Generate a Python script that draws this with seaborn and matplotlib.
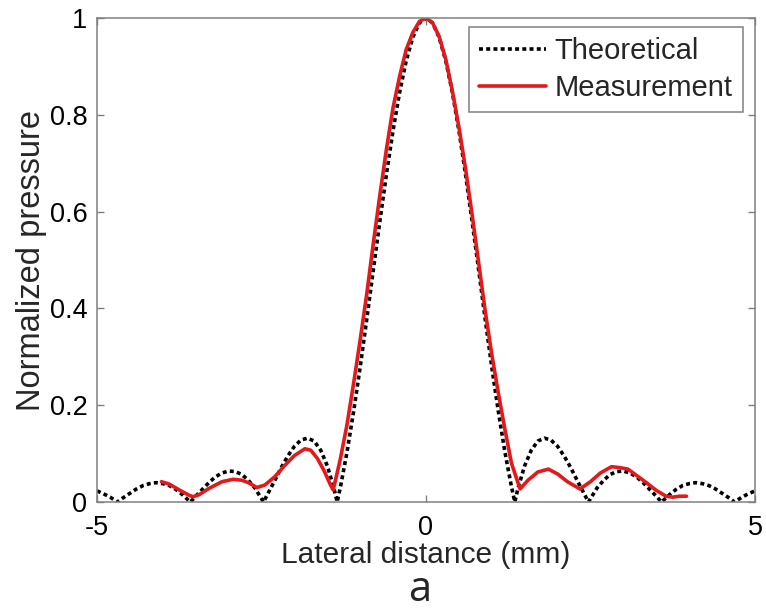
import numpy as np
import pandas as pd
import matplotlib
matplotlib.use('Agg')
import matplotlib.pyplot as plt
import seaborn as sns

# ---------------- DATA ----------------

theo_x = [-5.0, -4.9, -4.8, -4.69, -4.6, -4.5, -4.4, -4.3, -4.2, -4.1, -4.0,
          -3.9, -3.8, -3.7, -3.58, -3.5, -3.4, -3.3, -3.2, -3.1, -3.0,
          -2.9, -2.8, -2.7, -2.6, -2.5, -2.47, -2.4, -2.3, -2.2, -2.1, -2.0,
          -1.9, -1.8, -1.7, -1.6, -1.5, -1.4, -1.35, -1.3, -1.2, -1.1, -1.0,
          -0.9, -0.8, -0.7, -0.6, -0.5, -0.4, -0.3, -0.2, -0.1,
          0.0,
          0.1, 0.2, 0.3, 0.4, 0.5, 0.6, 0.7, 0.8, 0.9,
          1.0, 1.1, 1.2, 1.3, 1.35, 1.4, 1.5, 1.6, 1.7, 1.8, 1.9,
          2.0, 2.1, 2.2, 2.3, 2.4, 2.47, 2.5, 2.6, 2.7, 2.8, 2.9,
          3.0, 3.1, 3.2, 3.3, 3.4, 3.5, 3.58, 3.7, 3.8, 3.9,
          4.0, 4.1, 4.2, 4.3, 4.4, 4.5, 4.6, 4.69, 4.8, 4.9, 5.0]
theo_y = [0.023, 0.017, 0.010, 0.000, 0.009, 0.018, 0.027, 0.034, 0.038, 0.040, 0.038,
          0.034, 0.026, 0.015, 0.000, 0.012, 0.026, 0.040, 0.052, 0.060, 0.064,
          0.063, 0.057, 0.045, 0.029, 0.007, 0.000, 0.018, 0.044, 0.071, 0.095, 0.115,
          0.128, 0.132, 0.126, 0.107, 0.075, 0.029, 0.000, 0.031, 0.103, 0.187, 0.279,
          0.378, 0.480, 0.581, 0.678, 0.768, 0.847, 0.912, 0.960, 0.990,
          1.000,
          0.990, 0.960, 0.912, 0.847, 0.768, 0.678, 0.581, 0.480, 0.378,
          0.279, 0.187, 0.103, 0.031, 0.000, 0.029, 0.075, 0.107, 0.126, 0.132, 0.128,
          0.115, 0.095, 0.071, 0.044, 0.018, 0.000, 0.007, 0.029, 0.045, 0.057, 0.063,
          0.064, 0.060, 0.052, 0.040, 0.026, 0.012, 0.000, 0.015, 0.026, 0.034,
          0.038, 0.040, 0.038, 0.034, 0.027, 0.018, 0.009, 0.000, 0.010, 0.017, 0.023]

meas_x = [-4.02, -3.9, -3.75, -3.6, -3.54, -3.45, -3.3, -3.1, -2.93, -2.8, -2.7,
          -2.57, -2.45, -2.3, -2.15, -2.0, -1.84, -1.75, -1.65, -1.55, -1.45, -1.41,
          -1.35, -1.3, -1.2, -1.1, -1.0, -0.9, -0.8, -0.7, -0.6, -0.5, -0.4, -0.3,
          -0.2, -0.1, 0.0,
          0.1, 0.2, 0.3, 0.4, 0.5, 0.6, 0.7, 0.8, 0.9, 1.0, 1.1, 1.2, 1.3, 1.43,
          1.55, 1.7, 1.86, 2.0, 2.15, 2.34, 2.5, 2.65, 2.82, 2.95, 3.07, 3.2,
          3.35, 3.5, 3.65, 3.75, 3.85, 3.96]
meas_y = [0.042, 0.037, 0.025, 0.014, 0.011, 0.015, 0.028, 0.042, 0.047, 0.045, 0.040,
          0.030, 0.035, 0.052, 0.075, 0.096, 0.110, 0.107, 0.090, 0.065, 0.035, 0.025,
          0.060, 0.090, 0.160, 0.245, 0.335, 0.430, 0.535, 0.635, 0.730, 0.815, 0.880, 0.935,
          0.970, 0.993, 1.000,
          0.990, 0.962, 0.915, 0.850, 0.775, 0.690, 0.595, 0.495, 0.395, 0.305, 0.225, 0.150, 0.080, 0.027,
          0.045, 0.062, 0.068, 0.058, 0.042, 0.027, 0.042, 0.060, 0.073, 0.071, 0.068, 0.055,
          0.040, 0.024, 0.012, 0.010, 0.012, 0.012]

x_ticks = [-5, 0, 5]
x_ticklabels = ['-5', '0', '5']
y_ticks = [0, 0.2, 0.4, 0.6, 0.8, 1]
y_ticklabels = ['0', '0.2', '0.4', '0.6', '0.8', '1']

theo_df = pd.DataFrame({'x': theo_x, 'y': theo_y})
meas_df = pd.DataFrame({'x': meas_x, 'y': meas_y})

# ---------------- STYLE ----------------
sns.set_style('white')
plt.rcParams['font.family'] = ['Liberation Sans', 'DejaVu Sans']

fig = plt.figure(figsize=(7.66, 6.15), dpi=100)
ax = fig.add_axes([0.1266, 0.1837, 0.8590, 0.7870])

sns.lineplot(data=theo_df, x='x', y='y', ax=ax, color='black', lw=2.6,
             linestyle=(0, (1.1, 0.9)), label='Theoretical', estimator=None, sort=False)
sns.lineplot(data=meas_df, x='x', y='y', ax=ax, color='#e31a1c', lw=2.6,
             label='Measurement', estimator=None, sort=False)

ax.set_xlim(-5, 5)
ax.set_ylim(0, 1)
ax.set_xticks(x_ticks)
ax.set_xticklabels(x_ticklabels)
ax.set_yticks(y_ticks)
ax.set_yticklabels(y_ticklabels)
ax.tick_params(direction='in', length=5, width=1, colors='#808080',
               labelcolor='black', labelsize=19.5, top=True, right=True,
               bottom=True, left=True)
ax.tick_params(axis='x', pad=9)
ax.tick_params(axis='y', pad=7)
for s in ax.spines.values():
    s.set_color('#808080')
    s.set_linewidth(1.1)

ax.set_xlabel('Lateral distance (mm)', fontsize=21.5, labelpad=0)
ax.set_ylabel('Normalized pressure', fontsize=23.5, labelpad=2)

leg = ax.legend(loc='upper right', bbox_to_anchor=(743 / 766, 1 - 27 / 615),
                bbox_transform=fig.transFigure, borderaxespad=0, fontsize=21,
                fancybox=False, framealpha=1, edgecolor='#808080',
                handlelength=2.3, handletextpad=0.3, borderpad=0.35, labelspacing=0.3)
leg.get_frame().set_linewidth(1.1)

fig.text(420 / 766, 1 - 590 / 615, 'a', fontsize=30, ha='center', va='center',
         family=['Open Sans', 'DejaVu Sans'])

fig.savefig('out.png', dpi=100)
